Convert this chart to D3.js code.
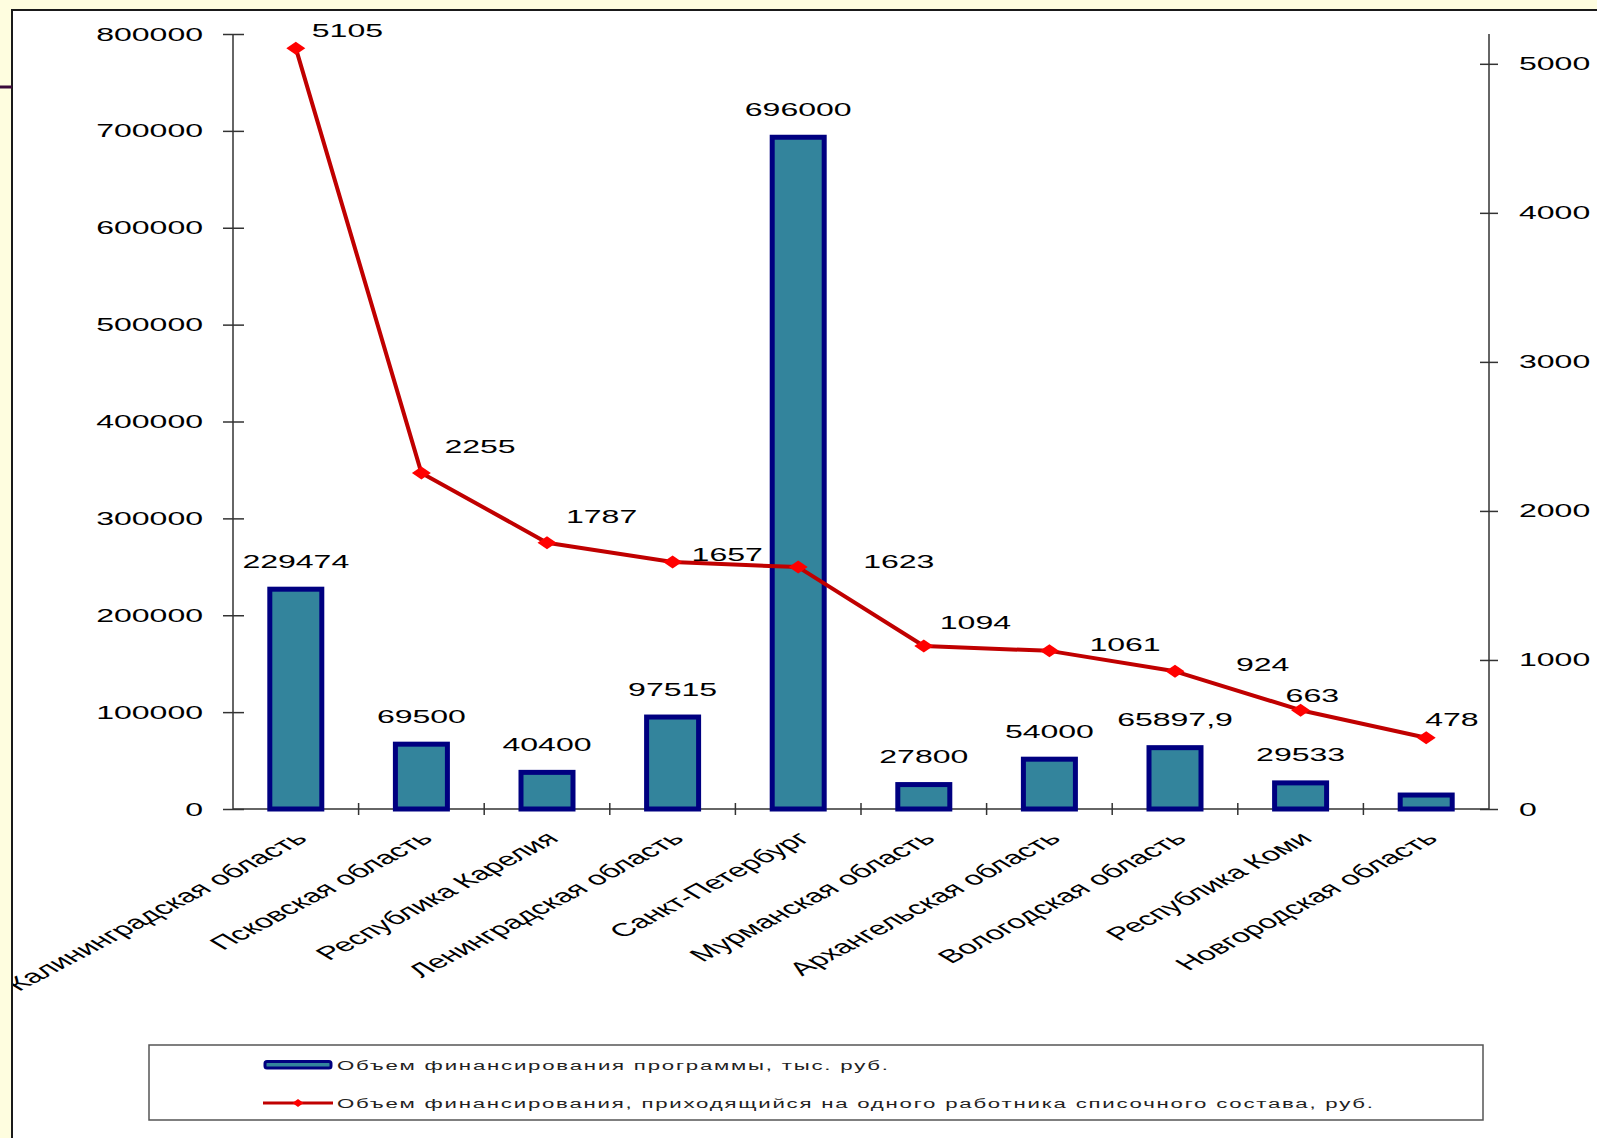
<!DOCTYPE html>
<html>
<head>
<meta charset="utf-8">
<script src="https://cdn.jsdelivr.net/npm/d3@7"></script>
<style>
  html, body { margin: 0; padding: 0; background: #FEFDDF; }
  svg { display: block; }
  text { font-family: "Liberation Sans", Arial, sans-serif; fill: #000; }
</style>
</head>
<body>
<svg id="chart" width="1597" height="1138"></svg>
<script>
// ---------- data ----------
const categories = [
  "Калининградская область",
  "Псковская область",
  "Республика Карелия",
  "Ленинградская область",
  "Санкт-Петербург",
  "Мурманская область",
  "Архангельская область",
  "Вологодская область",
  "Республика Коми",
  "Новгородская область"
];
const fundingValues = [229474, 69500, 40400, 97515, 696000, 27800, 54000, 65897.9, 29533, 17000];
const fundingLabels = ["229474", "69500", "40400", "97515", "696000", "27800", "54000", "65897,9", "29533", null];
const perWorkerValues = [5105, 2255, 1787, 1657, 1623, 1094, 1061, 924, 663, 478];
const leftTicks = [0, 100000, 200000, 300000, 400000, 500000, 600000, 700000, 800000];
const rightTicks = [0, 1000, 2000, 3000, 4000, 5000];
const legendLabels = [
  "Объем финансирования программы, тыс. руб.",
  "Объем финансирования, приходящийся на одного работника списочного состава, руб."
];
// label placement (layout only): offset of each line label from its point
const lineLabelOffsets = [[16,-11],[23,-20],[19,-20],[19,-1],[65,1],[16,-17],[40,0],[61,0],[-15,-8],[-1,-12]];

// ---------- layout ----------
const SX = 1.78;          // horizontal stretch of the original picture
const FS = 18;
const plotLeft = 233, plotRight = 1489, plotTop = 34, plotBase = 809;

const svg = d3.select("#chart");

// slide decoration
svg.append("rect").attr("x", 0).attr("y", 0).attr("width", 1597).attr("height", 1138).attr("fill", "#FEFDDF");
svg.append("rect").attr("x", 12).attr("y", 10).attr("width", 1700).attr("height", 1300)
  .attr("fill", "#fff").attr("stroke", "#1a1a1a").attr("stroke-width", 2);
svg.append("line").attr("x1", 0).attr("x2", 12).attr("y1", 87).attr("y2", 87)
  .attr("stroke", "#3a0a3a").attr("stroke-width", 3);
svg.append("defs").append("clipPath").attr("id", "areaClip")
  .append("rect").attr("x", 13).attr("y", 11).attr("width", 1600).attr("height", 1200);

const x = d3.scaleBand().domain(categories).range([plotLeft, plotRight]).padding(0);
const yL = d3.scaleLinear().domain([0, 800000]).range([plotBase, plotTop]);
const yR = d3.scaleLinear().domain([0, 5200]).range([plotBase, plotTop]);

function sText(g, px, py, str, anchor, size) {
  return g.append("text")
    .attr("transform", `translate(${px},${py}) scale(${SX},1)`)
    .attr("text-anchor", anchor || "start")
    .style("font-size", (size || FS) + "px")
    .text(str);
}

// ---------- axes ----------
const axisColor = "#333";
const gL = svg.append("g").attr("transform", `translate(${plotLeft},0)`)
  .call(d3.axisLeft(yL).tickValues(leftTicks).tickSize(10).tickFormat(""));
const gR = svg.append("g").attr("transform", `translate(${plotRight},0)`)
  .call(d3.axisRight(yR).tickValues(rightTicks).tickSize(10).tickFormat(""));
const gX = svg.append("g").attr("transform", `translate(0,${plotBase})`)
  .call(d3.axisBottom(x).tickValues([]).tickSizeOuter(0).tickFormat(""));

[gL, gR, gX].forEach(g => {
  g.select(".domain").attr("stroke", axisColor).attr("stroke-width", 1.5);
  g.selectAll(".tick line").attr("stroke", axisColor).attr("stroke-width", 1.5);
});
gL.select(".domain").attr("d", `M0,${plotTop}V${plotBase}`);
gR.select(".domain").attr("d", `M0,${plotTop}V${plotBase}`);
gX.select(".domain").attr("d", `M${plotLeft},0H${plotRight}`);
gL.selectAll(".tick line").attr("x1", 11).attr("x2", -10);
gR.selectAll(".tick line").attr("x1", -9).attr("x2", 9);

// x ticks at category boundaries (crossing)
const boundaries = categories.map(c => x(c)).concat([plotRight]);
svg.append("g").selectAll("line").data(boundaries.slice(1, -1)).join("line")
  .attr("x1", d => d).attr("x2", d => d).attr("y1", plotBase - 6).attr("y2", plotBase + 6)
  .attr("stroke", axisColor).attr("stroke-width", 1.5);

// tick labels
const lblL = svg.append("g");
leftTicks.forEach(t => sText(lblL, plotLeft - 30, yL(t) + 6.5, String(t), "end"));
const lblR = svg.append("g");
rightTicks.forEach(t => sText(lblR, plotRight + 30, yR(t) + 6.5, String(t), "start"));

// category labels (rotated, then stretched); clipped by the chart frame like the original
const catG = svg.append("g").attr("clip-path", "url(#areaClip)");
categories.forEach(c => {
  const cx = x(c) + x.bandwidth() / 2;
  catG.append("text")
    .attr("transform", `translate(${cx + 13},${plotBase + 31}) scale(${SX},1) rotate(-43)`)
    .attr("text-anchor", "end")
    .style("font-size", "18.5px")
    .text(c);
});

// ---------- bars ----------
const barW = 52;
svg.append("g").selectAll("rect").data(fundingValues).join("rect")
  .attr("x", (d, i) => x(categories[i]) + x.bandwidth() / 2 - barW / 2)
  .attr("y", d => yL(d) + 2.5)
  .attr("width", barW)
  .attr("height", d => plotBase - yL(d) - 2.5)
  .attr("fill", "#33849C")
  .attr("stroke", "#000080")
  .attr("stroke-width", 5);

const barLbl = svg.append("g");
fundingValues.forEach((v, i) => {
  if (fundingLabels[i] == null) return;
  sText(barLbl, x(categories[i]) + x.bandwidth() / 2, yL(v) - 19, fundingLabels[i], "middle");
});

// ---------- line ----------
const cxOf = i => x(categories[i]) + x.bandwidth() / 2;
const line = d3.line().x((d, i) => cxOf(i)).y(d => yR(d));
svg.append("path").datum(perWorkerValues).attr("d", line)
  .attr("fill", "none").attr("stroke", "#C00000").attr("stroke-width", 4)
  .attr("stroke-linejoin", "round");

const diamond = (w, h) => `M${-w/2},0L0,${-h/2}L${w/2},0L0,${h/2}Z`;
svg.append("g").selectAll("path").data(perWorkerValues).join("path")
  .attr("transform", (d, i) => `translate(${cxOf(i)},${yR(d)})`)
  .attr("d", diamond(19, 13))
  .attr("fill", "#FF0000");

const lineLbl = svg.append("g");
perWorkerValues.forEach((v, i) => {
  const [dx, dy] = lineLabelOffsets[i];
  sText(lineLbl, cxOf(i) + dx, yR(v) + dy, String(v), "start");
});

// ---------- legend ----------
const lg = svg.append("g");
lg.append("rect").attr("x", 149).attr("y", 1045).attr("width", 1334).attr("height", 75)
  .attr("fill", "#fff").attr("stroke", "#555").attr("stroke-width", 1.5);
lg.append("rect").attr("x", 265).attr("y", 1061.5).attr("width", 66).attr("height", 6.5).attr("rx", 2)
  .attr("fill", "#33849C").attr("stroke", "#000080").attr("stroke-width", 3);
lg.append("line").attr("x1", 263).attr("x2", 333).attr("y1", 1103).attr("y2", 1103)
  .attr("stroke", "#C00000").attr("stroke-width", 3);
lg.append("path").attr("transform", "translate(298,1103)").attr("d", diamond(11, 8)).attr("fill", "#FF0000");
const LSX = 1.85;
lg.append("text").attr("transform", `translate(337,1069.5) scale(${LSX},1)`)
  .style("font-size", "12px").style("fill", "#222")
  .attr("textLength", 551 / LSX).attr("lengthAdjust", "spacing").text(legendLabels[0]);
lg.append("text").attr("transform", `translate(337,1107.5) scale(${LSX},1)`)
  .style("font-size", "12px").style("fill", "#222")
  .attr("textLength", 1036 / LSX).attr("lengthAdjust", "spacing").text(legendLabels[1]);
</script>
</body>
</html>
